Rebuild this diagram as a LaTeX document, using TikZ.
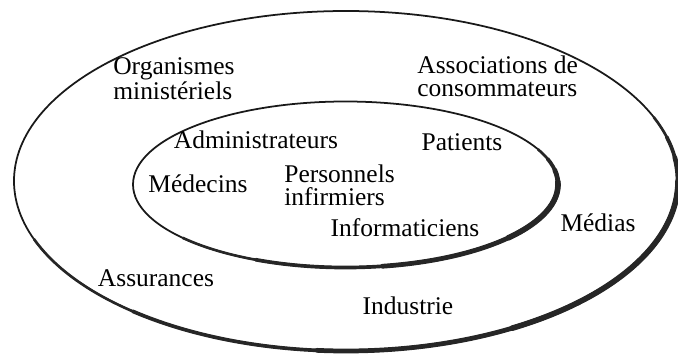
\documentclass[tikz,border=0pt]{standalone}
\usepackage{fontspec}
\setmainfont{Liberation Serif}
\usepackage{tikz}

\begin{document}
\begin{tikzpicture}[x=0.02cm, y=0.02cm,
    lbl/.style={inner sep=0pt, font=\fontsize{14.5}{13}\selectfont},
    lblleft/.style={lbl, anchor=west, align=left},
    ring/.style={line width=1pt, black!90},
    shade/.style={black!85, line cap=round}]
            \useasboundingbox (0,0) rectangle (678,355);
            \coordinate (outerc) at (346,174);
            \coordinate (innerc) at (345.5,170.5);

            % Ellipse extérieure (trait plus épais en bas à droite)
            \draw[ring] (outerc) ellipse [x radius=332, y radius=170];
            \foreach \w/\a/\b in {1.5/-160/22, 2.1/-130/15, 2.7/-95/8, 3.2/-60/0}
                \draw[shade, line width=\w pt] (outerc) ++(\a:332 and 170) arc[start angle=\a, end angle=\b, x radius=332, y radius=170];
            % Ellipse intérieure
            \draw[ring] (innerc) ellipse [x radius=212.5, y radius=83];
            \foreach \w/\a/\b in {1.5/-140/25, 2.1/-115/18, 2.7/-80/10, 3.2/-40/2}
                \draw[shade, line width=\w pt] (innerc) ++(\a:212.5 and 83) arc[start angle=\a, end angle=\b, x radius=212.5, y radius=83];

            % Acteurs externes
            \node[lblleft] (organismes) at (113,276) {Organismes\\ministériels};
            \node[lblleft] (associations) at (417,279) {Associations de\\consommateurs};
            \node[lbl] (medias) at (598,132) {Médias};
            \node[lbl] (assurances) at (156,77) {Assurances};
            \node[lbl] (industrie) at (408,49) {Industrie};

            % Acteurs internes
            \node[lbl] (admin) at (256,215) {Administrateurs};
            \node[lbl] (patients) at (462,213) {Patients};
            \node[lbl] (medecins) at (198,171) {Médecins};
            \node[lblleft] (infirmiers) at (284,170) {Personnels\\infirmiers};
            \node[lbl] (informaticiens) at (405,127) {Informaticiens};
        \end{tikzpicture}
\end{document}
